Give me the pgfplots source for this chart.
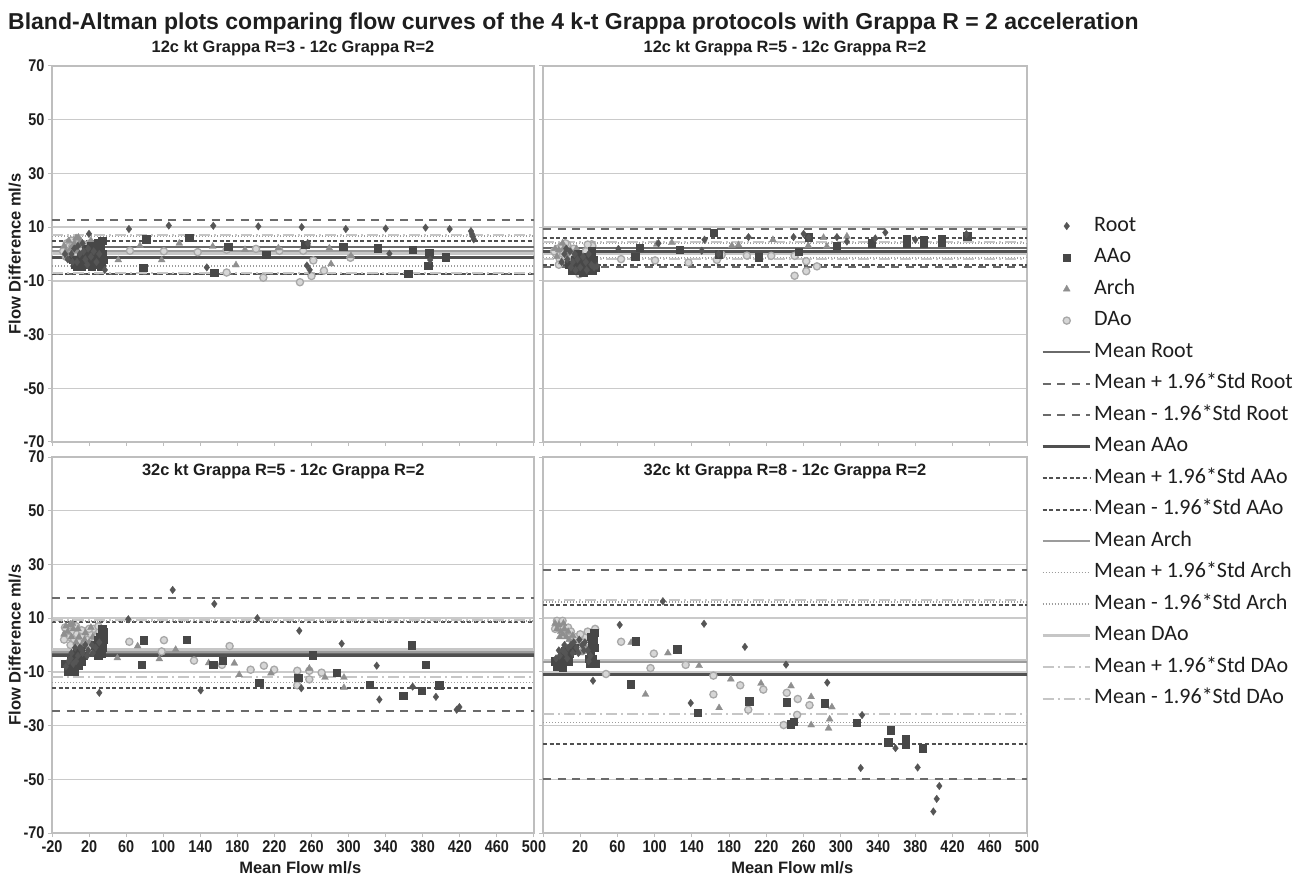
\documentclass[border=0pt]{standalone}
\usepackage{fontspec}
\setmainfont{Liberation Sans}
\newfontfamily\cali{Carlito}
\newfontfamily\narrow{Liberation Sans}[FakeStretch=0.85]
\usepackage{pgfplots}
\pgfplotsset{compat=1.18}

\definecolor{rootc}{HTML}{555555}
\definecolor{aaoc}{HTML}{474747}
\definecolor{archc}{HTML}{8F8F8F}
\definecolor{daofill}{HTML}{D6D6D6}
\definecolor{daoedge}{HTML}{A8A8A8}
\definecolor{rootl}{HTML}{6A6A6A}
\definecolor{aaol}{HTML}{505050}
\definecolor{archl}{HTML}{9C9C9C}
\definecolor{daol}{HTML}{C6C6C6}
\definecolor{gridc}{HTML}{CACACA}
\definecolor{framec}{HTML}{BEBEBE}
\definecolor{txtc}{HTML}{1E1E1E}

\pgfplotsset{
  ba/.style={
    scale only axis, width=482pt, height=376pt,
    xmin=-20, xmax=500, ymin=-70, ymax=70,
    xtick={-20,20,...,500}, ytick={-70,-50,...,70},
    ymajorgrids, grid style={draw=gridc, line width=1.3pt},
    axis line style={draw=framec, line width=1.3pt},
    tick style={draw=framec, line width=1pt},
    tick align=outside, major tick length=4pt,
    xtick pos=bottom, ytick pos=left,
    ticklabel style={font=\narrow\bfseries\fontsize{17}{19}\selectfont, text=txtc},
    /pgf/number format/assume math mode=true,
    title style={font=\bfseries\fontsize{16.4}{19}\selectfont, text=txtc},
    label style={font=\bfseries\fontsize{16.5}{19}\selectfont, text=txtc},
    ylabel style={at={(axis description cs:-0.077,0.5)}, anchor=center},
    xlabel style={at={(axis description cs:0.515,-0.093)}, anchor=center},
  },
  rootm/.style={only marks, mark=diamond*, mark size=3.8pt, mark options={fill=rootc, draw=rootc, line width=0.3pt, solid}},
  aaom/.style={only marks, mark=square*, mark size=3.7pt, mark options={fill=aaoc, draw=aaoc, line width=0.3pt, solid}},
  archm/.style={only marks, mark=triangle*, mark size=4pt, mark options={fill=archc, draw=archc, line width=0.3pt, solid}},
  daom/.style={only marks, mark=*, mark size=3.6pt, mark options={fill=daofill, draw=daoedge, line width=1.3pt, solid}},
  rmean/.style={color=rootl, mark=none, line width=2pt},
  rlim/.style={color=rootl, mark=none, line width=2pt, dash pattern=on 8pt off 6.5pt},
  amean/.style={color=aaol, mark=none, line width=3pt},
  alim/.style={color=aaol, mark=none, line width=2pt, dash pattern=on 4pt off 2.7pt},
  chmean/.style={color=archl, mark=none, line width=2pt},
  chlim/.style={color=archl, mark=none, line width=1.6pt, dash pattern=on 1.2pt off 1.8pt},
  dmean/.style={color=daol, mark=none, line width=3pt},
  dlim/.style={color=daol, mark=none, line width=2pt, dash pattern=on 11pt off 4pt on 2pt off 4pt},
  legline/.style={legend image code/.code={\draw[##1] (0pt,0pt) -- (47pt,0pt);}},
  legmark/.style={legend image code/.code={\draw[mark repeat=2,mark phase=2,##1] plot coordinates {(0pt,0pt) (24pt,0pt) (48pt,0pt)};}},
}

\newcommand{\hl}[2]{\addplot[#1, forget plot] coordinates {(-20,#2) (500,#2)};}

\begin{document}
\begin{tikzpicture}
\useasboundingbox (0,0) rectangle (1309pt,879pt);
\node[anchor=base west, font=\bfseries\fontsize{23}{27}\selectfont, text=txtc, inner sep=0pt] at (8pt,849pt)
  {Bland-Altman plots comparing flow curves of the 4 k-t Grappa protocols with Grappa R = 2 acceleration};

% ---------------- Panel 1 (top left)
\begin{axis}[ba, at={(52pt,437pt)}, anchor=south west, xticklabels={},
  title={12c kt Grappa R=3 - 12c Grappa R=2}, title style={at={(0.5,1.031)}, anchor=center},
  ylabel={Flow Difference ml/s}]
\hl{rlim}{12.5} \hl{rlim}{-7.5}
\hl{alim}{5.0} \hl{alim}{-7.3}
\hl{chlim}{6.6} \hl{chlim}{-4.4}
\hl{dlim}{7.0} \hl{dlim}{-7.0}
\hl{dmean}{0.2} \hl{chmean}{1.2}
\hl{rmean}{2.5} \hl{amean}{-1.2}
\addplot[daom] coordinates {(64.1,1.2) (100.7,1.0) (137.2,0.7) (168.4,1.6) (200.1,1.9) (225.3,1.2) (168.4,-6.9) (208,-8.8) (247.5,-10.5) (251,1.2) (261.9,-2.4) (260,-8.2) (273.4,-6.2) (302,-1.4)
 (-6,2) (-4,4) (-3,0) (-1,3) (0,-2) (1,5) (3,1) (4,-3) (6,3) (7,0) (9,4) (11,-1) (12,2) (15,3.5) (18,0.5) (21,4) (24,2) (27,3)
 (-8,1) (-5,-1) (2,3) (5,0.5) (10,1.5) (14,-2)};
\addplot[archm] coordinates {(51.5,-2.2) (74.9,3.1) (98.3,-2.2) (117.3,4.0) (153.4,2.8) (178.5,-4.1) (188.2,1.6) (224.2,2.2) (255.7,3.9) (279.2,2.2) (281,-3.7) (302.5,-0.7) (8.4,6.2)
 (-5,1) (-2,5) (0,2) (2,-1) (4,4) (6,6) (8,1) (10,3) (13,-2) (16,2) (19,-3) (22,5)
 (-7,3) (-4,-1) (3,3) (11,5)};
\addplot[aaom] coordinates {(81.4,5.5) (127.8,6.0) (170,2.8) (210.9,-0.3) (294.3,2.8) (331.3,2.2) (369.1,1.6) (387,0.3) (405,-1.2) (78.5,-5.0) (154.8,-6.9) (364.4,-7.4) (386,-4.4) (252.9,3.4)
 (5,-4) (9,-3) (12,-4.5) (15,-1) (17,-4) (19,1) (21,-3) (23,-4.5) (24,0) (26,-2) (27,2) (28,-4) (29,-0.5) (30,1) (31,-3) (32,3) (33,-4.5) (34,5) (34,0) (35,-2) (25,-4) (20,-2)
 (3,-2) (7,-4.5) (11,-1.5) (16,2) (22,3) (29,4)};
\addplot[rootm] coordinates {(19.9,7.5) (63,9.3) (106,10.6) (154,10.5) (202.6,10.3) (249.4,10) (297,9.3) (340,9.5) (383,9.8) (409,9.3) (432,8.5) (433,7.5) (434,6.5) (435,5.5) (37,-5.9) (147,-5) (255,-4.3) (258,-5.9) (344,0.1) (388,-2.2) (256,4.0)
 (-3,-2) (1,0) (4,2) (7,-3) (10,0) (13,4) (16,-2) (19,2) (22,-1) (25,1) (28,-3) (31,0)
 (-6,0) (2,-3) (8,3) (14,1) (18,-4)};
\end{axis}

% ---------------- Panel 2 (top right)
\begin{axis}[ba, width=484pt, at={(543pt,437pt)}, anchor=south west, xticklabels={}, yticklabels={},
  title={12c kt Grappa R=5 - 12c Grappa R=2}, title style={at={(0.5,1.031)}, anchor=center},
  legend style={at={(1.029,0.6)}, anchor=north west, draw=none, fill=none, inner sep=0pt,
    font=\cali\fontsize{22}{26}\selectfont, text=txtc,
    nodes={inner sep=0pt, text height=14.5pt, text depth=4.5pt}, row sep=12.5pt, column sep=3pt},
  legend cell align=left]
\hl{rlim}{9.3} \hl{rlim}{-5.0}
\hl{alim}{6.1} \hl{alim}{-4.0}
\hl{chlim}{4.0} \hl{chlim}{-1.6}
\hl{dlim}{4.3} \hl{dlim}{-2.0}
\hl{dmean}{0.3} \hl{chmean}{1.2}
\hl{rmean}{2.2} \hl{amean}{1.0}
\addplot[daom, forget plot] coordinates {(63.9,-1.9) (100.4,-2.4) (136.3,-3.2) (166.8,-2.2) (172,-0.3) (199,-0.6) (225.2,-0.7) (250.3,-0.7) (250.3,-8.1) (262.8,-2.7) (262.8,-6.4) (274.3,-4.6) (32.3,3.6)
 (-6,0) (-4,2) (-2,-2) (0,3) (2,1) (4,-1) (6,3.5) (8,0) (10,-3) (13,2) (17,-4) (19,-7.5) (22,-2) (26,1) (30,-5) (33,3)
 (-8,1) (-3,-4) (4,4) (11,-1) (24,-5) (28,3.5)};
\addplot[archm, forget plot] coordinates {(102.2,3.6) (118.4,4.2) (182.9,3.1) (190,3.4) (227,5.3) (281.4,6.1) (285,2.8) (306.5,6.6) (265,3.1)
 (-5,-1) (-3,1.5) (0,-3) (2,2) (5,0) (7,-2) (10,1) (13,-1) (16,2)
 (-7,2) (1,4) (8,-4) (19,0)};
\addplot[aaom, forget plot] coordinates {(83.6,2.4) (79,-0.9) (126.6,1.6) (163.1,7.9) (168.6,0) (211.5,-1.2) (254.5,0.9) (265.4,6.3) (295.8,3.1) (333.4,4.0) (371,4.0) (371,5.5) (388.9,4.0) (389,5.2) (408.6,4.4) (408.6,5.6) (435.5,6.6)
 (8,-4) (11,-6) (14,-2) (16,-5) (18,-3) (20,-6) (22,-4) (24,-2) (26,-5.5) (28,-1) (30,-3) (32,1) (34,-2) (36,-5)
 (12,-4) (17,0) (23,-7) (29,-4.5) (33,-6)};
\addplot[rootm, forget plot] coordinates {(61,1.9) (104,4.0) (150.6,1.2) (153.5,5.3) (200.8,6.3) (249.2,6.3) (260,7.5) (265.4,6.1) (295.8,6.3) (306.5,4.6) (337,5.8) (347.8,8.0) (380,5.3) (434.8,7.4) (168.6,0)
 (3,0) (6,-2) (9,1) (12,-3) (14,0) (17,-2) (20,-5) (23,-1) (26,-3) (29,0) (32,-4) (35,-5) (38,-4.5)
 (0,-3) (5,2) (10,-5) (15,-6) (27,-6)};
\addlegendimage{rootm, legmark} \addlegendentry{Root}
\addlegendimage{aaom, legmark} \addlegendentry{AAo}
\addlegendimage{archm, legmark} \addlegendentry{Arch}
\addlegendimage{daom, legmark} \addlegendentry{DAo}
\addlegendimage{rmean, legline} \addlegendentry{Mean Root}
\addlegendimage{rlim, legline} \addlegendentry{Mean + 1.96*Std Root}
\addlegendimage{rlim, legline} \addlegendentry{Mean - 1.96*Std Root}
\addlegendimage{amean, legline} \addlegendentry{Mean AAo}
\addlegendimage{alim, legline} \addlegendentry{Mean + 1.96*Std AAo}
\addlegendimage{alim, legline} \addlegendentry{Mean - 1.96*Std AAo}
\addlegendimage{chmean, legline} \addlegendentry{Mean Arch}
\addlegendimage{chlim, legline} \addlegendentry{Mean + 1.96*Std Arch}
\addlegendimage{chlim, legline} \addlegendentry{Mean - 1.96*Std Arch}
\addlegendimage{dmean, legline} \addlegendentry{Mean DAo}
\addlegendimage{dlim, legline} \addlegendentry{Mean + 1.96*Std DAo}
\addlegendimage{dlim, legline} \addlegendentry{Mean - 1.96*Std DAo}
\end{axis}

% ---------------- Panel 3 (bottom left)
\begin{axis}[ba, at={(52pt,46pt)}, anchor=south west,
  title={32c kt Grappa R=5 - 12c Grappa R=2}, title style={at={(0.48,0.946)}, anchor=center},
  ylabel={Flow Difference ml/s}, xlabel={Mean Flow ml/s}]
\hl{rlim}{17.6} \hl{rlim}{-24.7}
\hl{alim}{8.5} \hl{alim}{-16.0}
\hl{chlim}{9.0} \hl{chlim}{-14.0}
\hl{dlim}{9.4} \hl{dlim}{-12.1}
\hl{dmean}{-1.6} \hl{chmean}{-2.6}
\hl{rmean}{-3.5} \hl{amean}{-3.8}
\addplot[daom] coordinates {(63.4,1.2) (100.8,1.8) (98.3,-2.4) (133.2,-5.8) (163.4,-7.4) (171.6,-0.4) (194.3,-9.2) (208.6,-7.7) (219.7,-9.2) (244.6,-9.6) (244.6,-15) (257.6,-9.6) (257.6,-12.8) (270.9,-10.3)
 (-5,4) (-3,6) (-1,3) (1,5) (4,2) (7,4) (10,1) (13,3) (16,5) (19,2) (22,4) (25,6) (28,3) (31,5) (34,2) (17,0)
 (-7,2) (-6,6.5) (0,0) (6,7) (12,5.5) (20,6) (26,1) (30,7)};
\addplot[archm] coordinates {(50.5,-4.8) (72.4,-0.4) (95.8,-5.2) (113.4,-1.7) (149,-6.7) (176.7,-6.8) (182,-11.1) (216.2,-10.5) (257.6,-8.7) (274.5,-12.1) (295,-12.1) (295,-15.9)
 (-5,7) (-3,5) (-1,7.5) (1,3) (3,6) (6,1) (9,3) (12,0) (15,2) (20,1) (24,3)
 (-7,4) (2,8) (8,6) (16,4.5) (22,6.5)};
\addplot[aaom] coordinates {(76.8,-7.3) (78.6,1.8) (125.3,2.0) (154,-7.3) (164.1,-5.8) (203.6,-14.1) (245.7,-12.1) (261.2,-3.8) (287.1,-10.3) (323,-14.7) (359,-18.9) (368,-0.1) (378.8,-16.9) (383,-7.4) (397.8,-15)
 (-3,-10) (-1,-8) (1,-9) (3,-5) (5,-7) (7,-3) (9,-5) (11,-2) (14,-4) (28,-2) (30,-4) (31,0) (32,3) (33,-3) (34,6) (35,2) (35,5)
 (-6,-7) (0,-6) (4,-10) (8,-7.5) (12,-6) (26,0) (29,2) (34,-1)};
\addplot[rootm] coordinates {(110.2,20.5) (155.1,15.3) (62.3,9.6) (201.5,10) (246.8,5.3) (292.5,0.5) (330.3,-7.7) (31,-17.8) (140.4,-16.9) (249,-16.1) (333.2,-20.3) (369.1,-15.5) (394.2,-19.3) (416.6,-24.1) (419.5,-23.1)
 (-2,-6) (1,-3) (3,-7) (5,-1) (8,-4) (10,-1) (13,-3) (16,0) (19,-2) (23,0) (27,-1) (31,1)
 (-5,-8) (0,-5) (6,-6) (12,-1.5) (18,-4) (24,-3)};
\end{axis}

% ---------------- Panel 4 (bottom right)
\begin{axis}[ba, width=484pt, at={(543pt,46pt)}, anchor=south west, yticklabels={},
  xticklabels={{},20,60,100,140,180,220,260,300,340,380,420,460,500},
  title={32c kt Grappa R=8 - 12c Grappa R=2}, title style={at={(0.5,0.946)}, anchor=center},
  xlabel={Mean Flow ml/s}]
\hl{rlim}{28.0} \hl{rlim}{-50.0}
\hl{alim}{15.0} \hl{alim}{-36.7}
\hl{chlim}{16.0} \hl{chlim}{-28.8}
\hl{dlim}{16.6} \hl{dlim}{-25.6}
\hl{dmean}{-5.8} \hl{chmean}{-6.5}
\hl{rmean}{-10.8} \hl{amean}{-10.8}
\addplot[daom] coordinates {(63.9,1.2) (99.1,-3.2) (95.5,-8.6) (47.7,-10.8) (133.3,-7.4) (163.1,-11.4) (163.1,-18.4) (191.9,-15) (200.5,-24.1) (216.7,-16.6) (241.9,-17.8) (253.7,-20.1) (253,-26) (238.6,-29.8) (266.3,-22.4)
 (-4,8) (-2,7) (0,8) (2,6.5) (4,5) (6,4) (9,3) (12,1) (15,0) (18,-1) (22,1) (26,3) (30,-1) (36,6) (33,2)
 (-7,6) (-5,9) (1,9) (7,6.5) (10,5) (16,3) (20,4) (24,-2) (28,5)};
\addplot[archm] coordinates {(74.7,0.9) (90.1,-18.4) (114.2,-3.0) (147.7,-7.7) (169.2,-23.4) (181.8,-12.7) (214.2,-14.3) (246.5,-15.3) (268.1,-19.3) (268.1,-29.8) (290.4,-23.1) (288,-27.6) (286.8,-31)
 (-5,6) (-3,7.5) (-1,5) (1,4) (3,6) (5,3) (8,2) (11,0.5) (14,-1) (17,-2)
 (-7,8) (-2,3) (2,8) (7,5) (12,3.5) (20,-3) (24,0)};
\addplot[aaom] coordinates {(79.3,1.5) (73.9,-14.6) (124.3,-1.6) (145.9,-25.1) (201.6,-20.9) (241.9,-21.3) (249.4,-28.5) (246,-29.5) (282.5,-21.6) (316.7,-28.8) (353.3,-31.7) (350.8,-36.1) (369.9,-35.1) (369.9,-37.1) (387.9,-38.4)
 (-4,-7) (-2,-5.5) (0,-7) (2,-4) (5,-5) (8,-3) (11,-2) (30,-7) (31,-3) (32,0) (33,-5) (34,2) (35,4.5) (35,-1)
 (-7,-6) (-5,-8) (1,-8.5) (4,-2) (7,-6) (14,-1) (29,-5) (31,3) (36,-7)};
\addplot[rootm] coordinates {(62.4,7.5) (108.8,16.3) (153,7.9) (196.9,-0.7) (241.1,-7.3) (285.4,-14) (33.7,-13.3) (138.7,-21.6) (322.8,-26.1) (321.3,-45.8) (358.7,-38.4) (382.5,-45.6) (405.8,-52.5) (403,-57.3) (399.4,-62)
 (-2,-4) (1,-2) (4,-3) (7,-1) (10,0) (13,1) (16,-1) (19,2) (22,0) (25,1) (28,-2) (31,-4)
 (-6,-5) (-3,-2) (3,0) (6,-5) (12,-3) (18,-3) (24,-2) (29,-6)};
\end{axis}
\end{tikzpicture}
\end{document}
